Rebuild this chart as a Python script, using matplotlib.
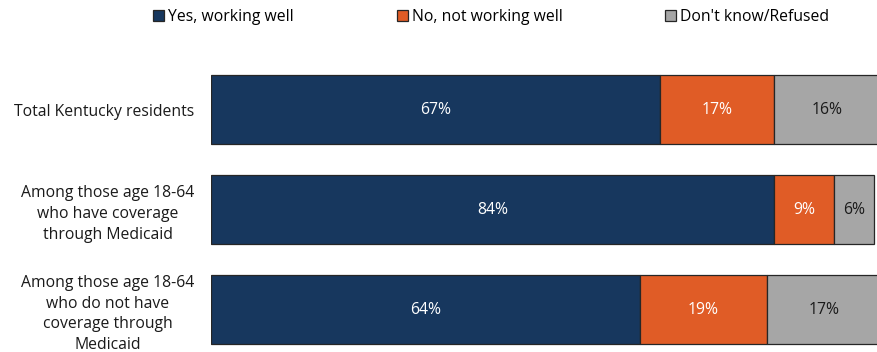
import matplotlib
matplotlib.use("Agg")
import matplotlib.pyplot as plt
import numpy as np

groups = [
    "Total Kentucky residents",
    "Among those age 18-64\nwho have coverage\nthrough Medicaid",
    "Among those age 18-64\nwho do not have\ncoverage through\nMedicaid",
]
series_names = ["Yes, working well", "No, not working well", "Don't know/Refused"]
yes_vals = [67, 84, 64]
no_vals = [17, 9, 19]
dk_vals = [16, 6, 17]

NAVY = "#17375e"
ORANGE = "#e05c26"
GREY = "#a6a6a6"
EDGE = "#262626"
TEXT = "#1a1a1a"
FS = 11.3

plt.rcParams["font.family"] = ["Open Sans", "DejaVu Sans"]

fig = plt.figure(figsize=(8.77, 3.52), dpi=100)
ax = fig.add_axes([211 / 877, -7.5 / 352, 666 / 877, 300 / 352])

ypos = np.arange(len(groups))
left = np.zeros(len(groups))
colors = [NAVY, ORANGE, GREY]
label_colors = ["white", "white", TEXT]
for name, vals, col, lc in zip(series_names, [yes_vals, no_vals, dk_vals],
                               colors, label_colors):
    vals = np.array(vals, dtype=float)
    ax.barh(ypos, vals, left=left, height=0.69, color=col, edgecolor=EDGE,
            linewidth=0.9, label=name)
    for y, l, v in zip(ypos, left, vals):
        ax.text(l + v / 2, y, f"{v:.0f}%", ha="center", va="center",
                color=lc, fontsize=FS)
    left += vals

ax.set_xlim(0, 99.4)
ax.set_ylim(len(groups) - 0.5, -0.5)
ax.set_yticks(ypos)
ax.set_yticklabels(groups, multialignment="center", fontsize=FS, color=TEXT,
                   linespacing=1.4)
ax.tick_params(axis="y", length=0, pad=12)
ax.set_xticks([])
for s in ax.spines.values():
    s.set_visible(False)

fig.legend(loc="upper center", bbox_to_anchor=(0.56, 1.0), ncol=3,
           frameon=False, fontsize=FS, handlelength=0.7, handleheight=0.7,
           handletextpad=0.25, columnspacing=6.55, borderaxespad=0.2)

fig.savefig("out.png", dpi=100)
